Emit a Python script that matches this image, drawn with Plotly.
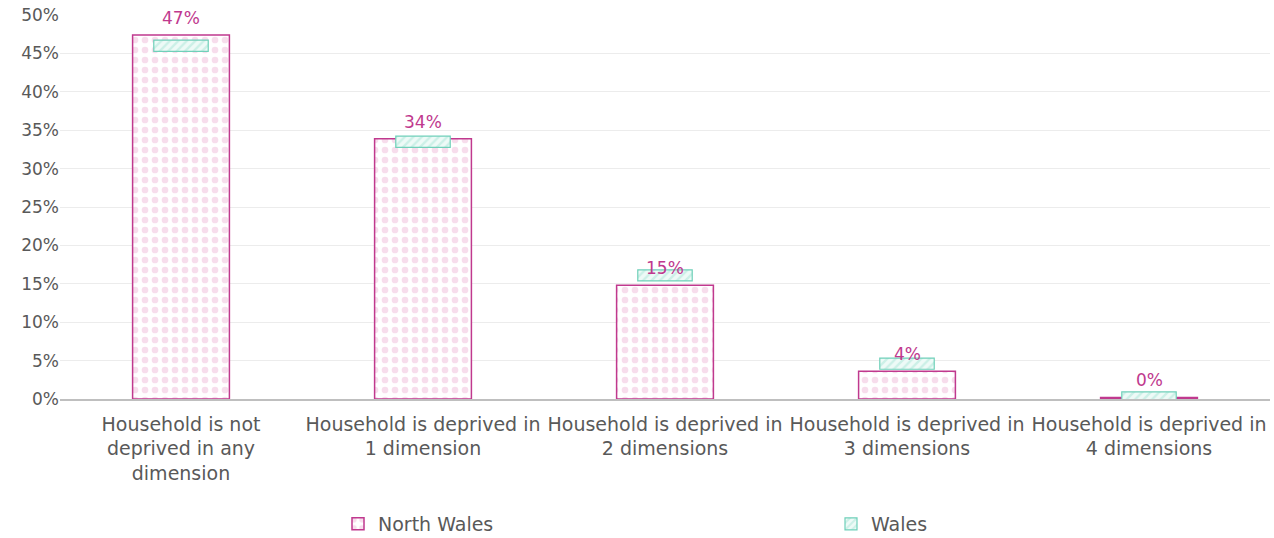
import plotly.graph_objects as go

categories = [
    "Household is not<br>deprived in any<br>dimension",
    "Household is deprived in<br>1 dimension",
    "Household is deprived in<br>2 dimensions",
    "Household is deprived in<br>3 dimensions",
    "Household is deprived in<br>4 dimensions",
]
north_wales = [47.4, 33.9, 14.8, 3.6, 0.2]
wales = [46.0, 33.5, 16.1, 4.6, 0.2]
y_ticks = [0, 5, 10, 15, 20, 25, 30, 35, 40, 45, 50]

FONT = "DejaVu Sans"
GREY = "#595959"
MAGENTA = "#c0398e"
TEAL = "#6fd0b9"
box_h = 1.45

fig = go.Figure()
fig.add_trace(go.Bar(
    x=categories, y=north_wales, name="North Wales", width=0.40,
    marker=dict(color="white", line=dict(color=MAGENTA, width=1.5),
                pattern=dict(shape=".", fgcolor="#efbcd9", bgcolor="white",
                             size=10, solidity=0.35)),
    hoverinfo="skip", legend="legend",
))
fig.add_trace(go.Bar(
    x=categories, y=[box_h] * len(wales), base=[v - box_h / 2 for v in wales],
    name="Wales", width=0.225,
    marker=dict(color="#e8f8f4", line=dict(color=TEAL, width=1.2),
                pattern=dict(shape="/", fgcolor="#a9e6d7", bgcolor="#eefaf7",
                             size=6, solidity=0.4)),
    hoverinfo="skip", legend="legend2",
))

for c, v in zip(categories, north_wales):
    fig.add_annotation(x=c, y=v, text=f"{v:.0f}%", showarrow=False,
                       yanchor="bottom", yshift=5,
                       font=dict(family=FONT, size=17, color=MAGENTA))

legend_common = dict(orientation="h", xref="container", yref="container",
                     xanchor="left", yanchor="middle", y=14 / 538,
                     bgcolor="rgba(0,0,0,0)",
                     font=dict(family=FONT, size=19, color=GREY))

fig.update_layout(
    width=1274, height=538,
    margin=dict(l=60, r=4, t=15, b=139, autoexpand=False),
    plot_bgcolor="white", paper_bgcolor="white",
    barmode="overlay",
    font=dict(family=FONT, size=18, color=GREY),
    showlegend=True,
    legend=dict(x=338 / 1274, **legend_common),
    legend2=dict(x=831 / 1274, **legend_common),
    xaxis=dict(showgrid=False, showline=True, linecolor="#bfbfbf", linewidth=1.5,
               ticks="", automargin=False, tickangle=0, ticklabelstandoff=7,
               tickfont=dict(family=FONT, size=19, color=GREY)),
    yaxis=dict(range=[0, 50], tickvals=y_ticks,
               ticktext=[f"{t}%" for t in y_ticks],
               showgrid=True, gridcolor="#ececec", gridwidth=1,
               zeroline=False, showline=False, ticks="", automargin=False,
               tickfont=dict(family=FONT, size=17, color=GREY)),
)

fig.write_html("out.html", config={"displayModeBar": False},
               post_script="document.body.style.margin='0';")
